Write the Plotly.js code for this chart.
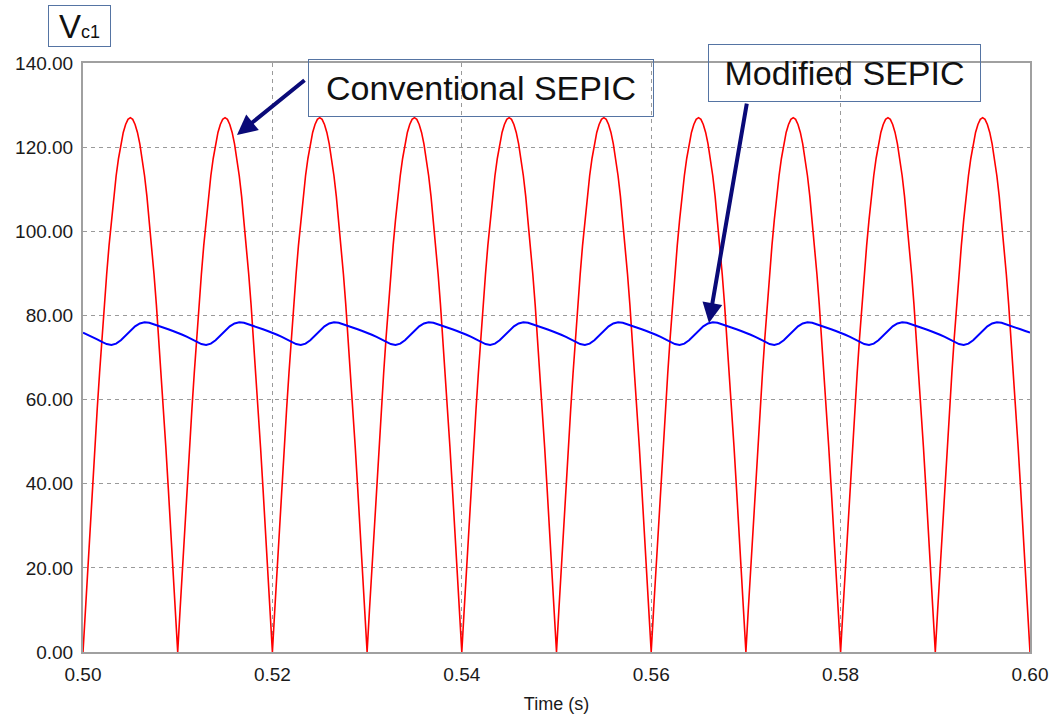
<!DOCTYPE html>
<html>
<head>
<meta charset="utf-8">
<script src="https://cdn.plot.ly/plotly-3.0.1.min.js"></script>
<style>html,body{margin:0;padding:0;background:#fff;}#chart{width:1053px;height:718px;}</style>
</head>
<body>
<div id="chart"></div>
<script>
// Start time of each 10 ms period (s)
const periodStarts = [0.50, 0.51, 0.52, 0.53, 0.54, 0.55, 0.56, 0.57, 0.58, 0.59];
// Offsets within one period for the conventional trace (s)
const convOffsets = [0.00000, 0.00025, 0.00050, 0.00075, 0.00100, 0.00125, 0.00150, 0.00175, 0.00200, 0.00225,
                     0.00250, 0.00275, 0.00300, 0.00325, 0.00350, 0.00375, 0.00400, 0.00425, 0.00450, 0.00475,
                     0.00500, 0.00525, 0.00550, 0.00575, 0.00600, 0.00625, 0.00650, 0.00675, 0.00700, 0.00725,
                     0.00750, 0.00775, 0.00800, 0.00825, 0.00850, 0.00875, 0.00900, 0.00925, 0.00950, 0.00975, 0.01000];
// Conventional SEPIC Vc1 over one period (V)
const conventionalPeriod = [0.0, 10.0, 19.9, 29.6, 39.2, 48.6, 57.7, 66.3, 74.6, 82.5,
                            89.8, 96.6, 102.7, 108.3, 113.2, 117.3, 120.8, 123.5, 125.4, 126.6,
                            127.0, 126.6, 125.4, 123.5, 120.8, 117.3, 113.2, 108.3, 102.7, 96.6,
                            89.8, 82.5, 74.6, 66.3, 57.7, 48.6, 39.2, 29.6, 19.9, 10.0, 0.0];
// Offsets within one period for the modified trace (s)
const modOffsets = [0.0000, 0.0005, 0.0010, 0.0015, 0.0020, 0.0025, 0.0030, 0.0035, 0.0040, 0.0045,
                    0.0050, 0.0055, 0.0060, 0.0065, 0.0070, 0.0075, 0.0080, 0.0085, 0.0090, 0.0095, 0.0100];
// Modified SEPIC Vc1 over one period (V)
const modifiedPeriod = [75.9, 75.4, 74.9, 74.3, 73.7, 73.2, 73.0, 73.3, 74.1, 75.2,
                        76.4, 77.4, 78.1, 78.35, 78.25, 77.9, 77.5, 77.1, 76.7, 76.3, 75.9];
const xTickVals = [0.50, 0.52, 0.54, 0.56, 0.58, 0.60];
const yTickVals = [0, 20, 40, 60, 80, 100, 120, 140];

function build(offsets, period) {
  const xs = [], ys = [];
  periodStarts.forEach((p, i) => {
    const last = (i === periodStarts.length - 1);
    const n = last ? offsets.length : offsets.length - 1;
    for (let k = 0; k < n; k++) {
      xs.push(Math.round((p + offsets[k]) * 1000000) / 1000000);
      ys.push(period[k]);
    }
  });
  return {xs, ys};
}
const conv = build(convOffsets, conventionalPeriod);
const mod = build(modOffsets, modifiedPeriod);

const font = 'Liberation Sans, Arial, sans-serif';
const boxColor = '#5574a3';
const arrowColor = '#0a0a78';

const traces = [
  {x: conv.xs, y: conv.ys, type: 'scatter', mode: 'lines', name: 'Conventional SEPIC',
   line: {color: '#ff0000', width: 1.6}},
  {x: mod.xs, y: mod.ys, type: 'scatter', mode: 'lines', name: 'Modified SEPIC',
   line: {color: '#0000ff', width: 2}}
];

const layout = {
  width: 1053, height: 718,
  margin: {l: 83, r: 23, t: 63, b: 66},
  paper_bgcolor: '#ffffff', plot_bgcolor: '#ffffff',
  showlegend: false,
  font: {family: font, color: '#1a1a1a'},
  xaxis: {
    range: [0.5, 0.6], tickvals: xTickVals, tickformat: '.2f',
    showgrid: true, gridcolor: '#9a9a9a', griddash: '4px,4px', gridwidth: 1,
    zeroline: false, showline: true, linecolor: '#a0a0a0', linewidth: 2, mirror: true,
    ticks: '', ticklabelstandoff: 4,
    tickfont: {size: 19, family: font, color: '#1a1a1a'},
    title: {text: 'Time (s)', font: {size: 18, family: font, color: '#1a1a1a'}, standoff: 14}
  },
  yaxis: {
    range: [0, 140], tickvals: yTickVals, tickformat: '.2f',
    showgrid: true, gridcolor: '#9a9a9a', griddash: '4px,4px', gridwidth: 1,
    zeroline: false, showline: true, linecolor: '#a0a0a0', linewidth: 2, mirror: true,
    ticks: '', ticklabelstandoff: 4,
    tickfont: {size: 19, family: font, color: '#1a1a1a'}
  },
  annotations: [
    {xref: 'paper', yref: 'paper', x: -0.0037, y: 1.0628, xanchor: 'center', yanchor: 'middle',
     text: 'V<span style="font-size:18px">c1</span>', showarrow: false,
     font: {size: 33, family: font, color: '#111111'},
     bordercolor: boxColor, borderwidth: 1, borderpad: 0, width: 61, height: 40, bgcolor: '#ffffff'},
    {xref: 'x', yref: 'y', x: 0.51626, y: 122.9, ax: 0.52355, ay: 136.2, axref: 'x', ayref: 'y',
     text: '', showarrow: true, arrowhead: 2, arrowsize: 1, arrowwidth: 4, arrowcolor: arrowColor, standoff: 0},
    {xref: 'x', yref: 'y', x: 0.5661, y: 78.2, ax: 0.57012, ay: 130.7, axref: 'x', ayref: 'y',
     text: '', showarrow: true, arrowhead: 2, arrowsize: 1, arrowwidth: 4, arrowcolor: arrowColor, standoff: 0},
    {xref: 'x', yref: 'y', x: 0.54203, y: 134.06, xanchor: 'center', yanchor: 'middle',
     text: 'Conventional SEPIC', showarrow: false,
     font: {size: 34, family: font, color: '#111111'},
     bordercolor: boxColor, borderwidth: 1, borderpad: 0, width: 344, height: 56, bgcolor: 'rgba(255,255,255,0)'},
    {xref: 'x', yref: 'y', x: 0.58041, y: 137.6, xanchor: 'center', yanchor: 'middle',
     text: 'Modified SEPIC', showarrow: false,
     font: {size: 34, family: font, color: '#111111'},
     bordercolor: boxColor, borderwidth: 1, borderpad: 0, width: 271, height: 56, bgcolor: 'rgba(255,255,255,0)'}
  ]
};

Plotly.newPlot('chart', traces, layout, {displayModeBar: false, staticPlot: true});
</script>
</body>
</html>
